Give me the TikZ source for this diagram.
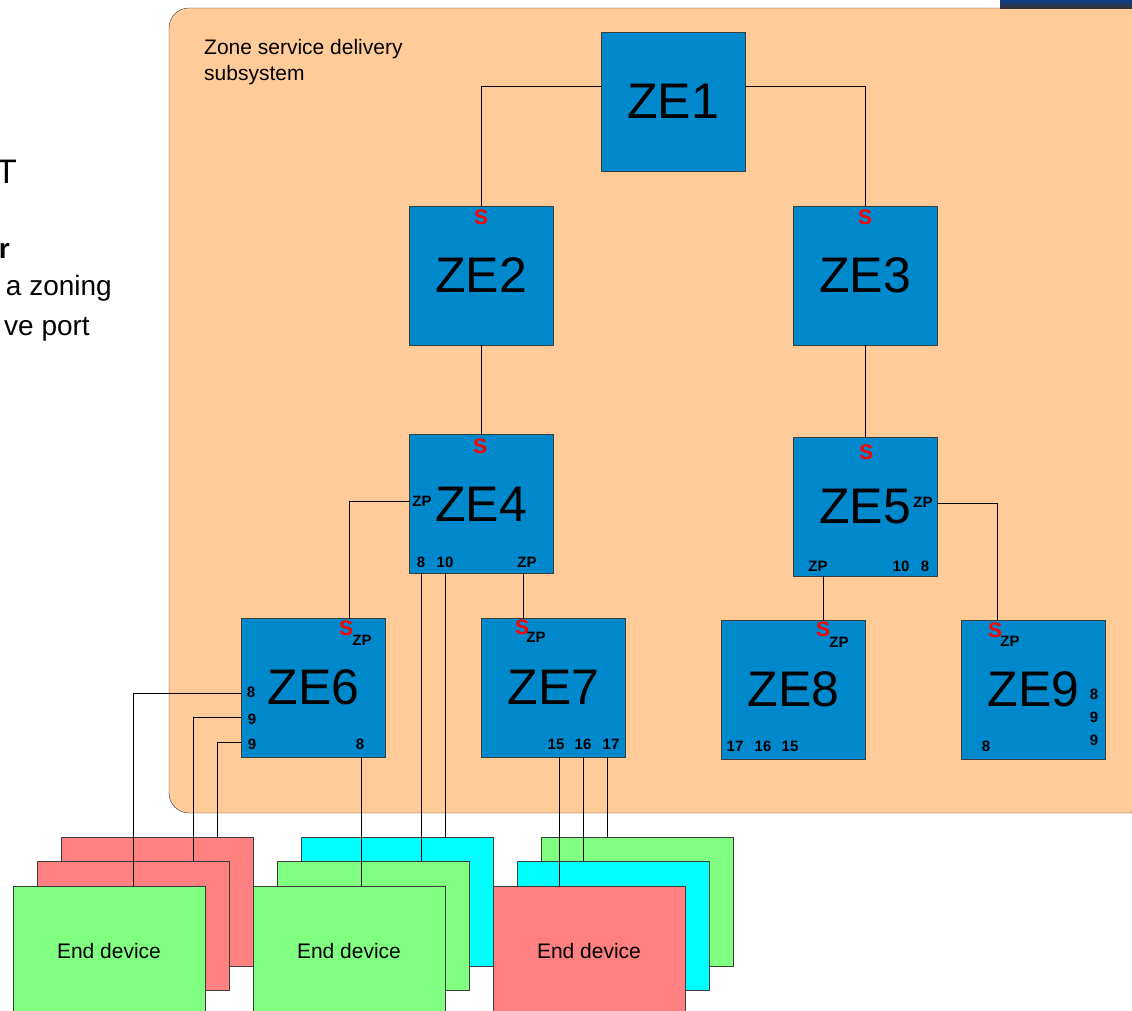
\documentclass[tikz,border=0pt]{standalone}
\usepackage{fontspec}
\setmainfont{Liberation Sans}

\definecolor{zonebg}{RGB}{255,204,153}
\definecolor{zeblue}{RGB}{0,136,204}
\definecolor{devred}{RGB}{255,128,128}
\definecolor{devgreen}{RGB}{128,255,128}
\definecolor{devcyan}{RGB}{0,255,255}
\definecolor{edgegray}{RGB}{60,60,60}
\definecolor{bandblue}{RGB}{16,60,140}

\begin{document}
\begin{tikzpicture}
[x=1pt,y=-1pt,
 ze/.style={rectangle,draw=edgegray,fill=zeblue,minimum width=144pt,minimum height=139pt,inner sep=0pt,font=\fontsize{50}{60}\selectfont},
 dev/.style={rectangle,draw=edgegray,minimum width=192pt,minimum height=129pt,inner sep=0pt,font=\fontsize{21}{25}\selectfont},
 sw/.style={text=red,font=\bfseries\fontsize{21}{24}\selectfont,inner sep=0pt},
 zp/.style={font=\bfseries\fontsize{15}{17}\selectfont,inner sep=0pt},
 pn/.style={font=\bfseries\fontsize{15}{18}\selectfont,inner sep=0pt},
 frag/.style={anchor=base east,inner sep=0pt,font=\fontsize{28}{32}\selectfont}]

  \useasboundingbox (0,0) rectangle (1132,1010);

  % zone background and slide band
  \draw[draw=edgegray,fill=zonebg,rounded corners=20pt] (169,8) rectangle (1150,813);
  \fill[top color=bandblue,bottom color=black!80] (1000,0) rectangle (1132,8);

  % cut off slide text
  \node[frag,font=\fontsize{34}{40}\selectfont] (txtt) at (17,183) {T};
  \node[frag,font=\bfseries\fontsize{28}{32}\selectfont] (txtr) at (10,258) {r};
  \node[frag] (txtzoning) at (112,295) {a zoning};
  \node[frag] (txtport) at (90,335) {ve port};

  \node[anchor=north west,align=left,inner sep=0pt,font=\fontsize{21}{26}\selectfont] (zonelbl) at (204,39) {Zone service delivery\\subsystem};

  % zoning entities
  \node[ze] (ze1) at (673,101.5) {ZE1};
  \node[ze] (ze2) at (481,275.5) {ZE2};
  \node[ze] (ze3) at (865,275.5) {ZE3};
  \node[ze] (ze4) at (481,504) {ZE4};
  \node[ze] (ze5) at (865,506.5) {ZE5};
  \node[ze] (ze6) at (313.5,687.5) {ZE6};
  \node[ze] (ze7) at (553.5,687.5) {ZE7};
  \node[ze] (ze8) at (793.5,689.5) {ZE8};
  \node[ze] (ze9) at (1033.5,689.5) {ZE9};

  % port labels
  \node[sw] (s2) at (481,217) {S};
  \node[sw] (s3) at (865,217) {S};
  \node[sw] (s4) at (480,446) {S};
  \node[sw] (s5) at (866,452) {S};
  \node[sw] (s6) at (346,628) {S};
  \node[sw] (s7) at (522,627) {S};
  \node[sw] (s8) at (823,629) {S};
  \node[sw] (s9) at (995,630) {S};

  \node[zp] (zp4w) at (422,501) {ZP};
  \node[zp] (zp4s) at (527,562) {ZP};
  \node[zp] (zp5e) at (923,502) {ZP};
  \node[zp] (zp5s) at (818,566) {ZP};
  \node[zp] (zp6) at (362,640) {ZP};
  \node[zp] (zp7) at (536,637) {ZP};
  \node[zp] (zp8) at (839,642) {ZP};
  \node[zp] (zp9) at (1010,641) {ZP};

  \node[pn] (p4a) at (421,562) {8};
  \node[pn] (p4b) at (445,562) {10};
  \node[pn] (p5a) at (901,566) {10};
  \node[pn] (p5b) at (925,566) {8};
  \node[pn] (p6a) at (251,692) {8};
  \node[pn] (p6b) at (252,719) {9};
  \node[pn] (p6c) at (252,744) {9};
  \node[pn] (p6d) at (360,744) {8};
  \node[pn] (p7a) at (556,744) {15};
  \node[pn] (p7b) at (583,744) {16};
  \node[pn] (p7c) at (611,744) {17};
  \node[pn] (p8a) at (735,746) {17};
  \node[pn] (p8b) at (763,746) {16};
  \node[pn] (p8c) at (790,746) {15};
  \node[pn] (p9a) at (1094,694) {8};
  \node[pn] (p9b) at (1094,717) {9};
  \node[pn] (p9c) at (1094,740) {9};
  \node[pn] (p9d) at (986,746) {8};

  % end devices, back to front
  \node[dev,fill=devred] (dev1c) at (157,901.5) {};
  \node[dev,fill=devred] (dev1b) at (133,926) {};
  \node[dev,fill=devgreen] (dev1a) at (109,950.5) {End device};
  \node[dev,fill=devcyan] (dev2c) at (397,901.5) {};
  \node[dev,fill=devgreen] (dev2b) at (373,926) {};
  \node[dev,fill=devgreen] (dev2a) at (349,950.5) {End device};
  \node[dev,fill=devgreen] (dev3c) at (637,901.5) {};
  \node[dev,fill=devcyan] (dev3b) at (613,926) {};
  \node[dev,fill=devred] (dev3a) at (589,950.5) {End device};

  % links
  \draw ([yshift=15.5pt]ze1.west) -| (ze2.north);
  \draw ([yshift=15.5pt]ze1.east) -| (ze3.north);
  \draw ([yshift=3pt]ze4.west) -| ([xshift=35.5pt]ze6.north);
  \draw ([yshift=3.5pt]ze5.east) -| ([xshift=-36.5pt]ze9.north);

  \foreach \from/\dx/\to in {ze2/0/ze4, ze3/0/ze5, ze4/42/ze7, ze5/-42/ze8,
    ze4/-60/dev2b, ze4/-36/dev2c, ze6/47.5/dev2a,
    ze7/5.5/dev3a, ze7/29.5/dev3b, ze7/53.5/dev3c}
    \draw ([xshift=\dx pt]\from.south) -- ([xshift=\dx pt]\from.south |- \to.north);

  \foreach \dy/\to/\dx in {-5.5/dev1a/24, -29.5/dev1b/60, -54.5/dev1c/60}
    \draw ([yshift=\dy pt]ze6.west) -| ([xshift=\dx pt]\to.north);
\end{tikzpicture}
\end{document}
